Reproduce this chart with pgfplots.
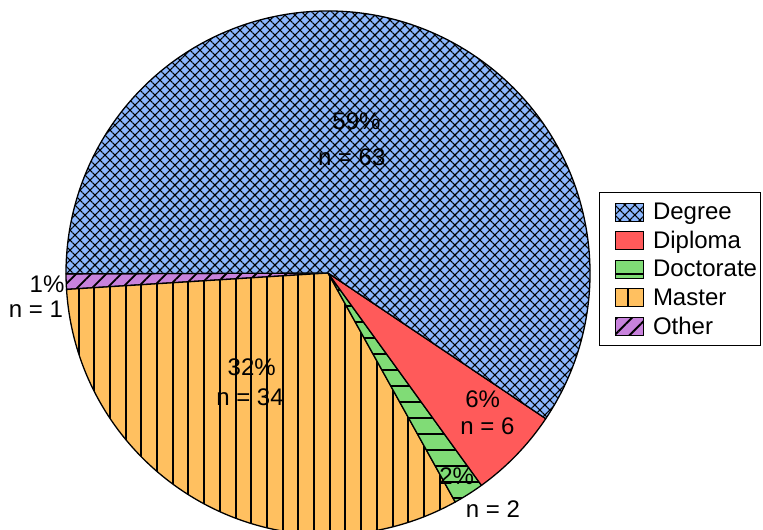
\documentclass[border=0pt]{standalone}
\usepackage{fontspec}
\setmainfont{Liberation Sans}
\usepackage{pgfplots}
\pgfplotsset{compat=1.18}
\usepackage{pgfplotstable}
\usetikzlibrary{patterns.meta}

\definecolor{cDegree}{RGB}{140,184,255}
\definecolor{cDiploma}{RGB}{255,90,90}
\definecolor{cDoctorate}{RGB}{128,220,118}
\definecolor{cMaster}{RGB}{255,192,96}
\definecolor{cOther}{RGB}{200,130,220}

\pgfplotstableread{
label n
Other 1
Master 34
Doctorate 2
Diploma 6
Degree 63
}\piedata

\pgfplotstablegetelem{0}{n}\of\piedata \edef\nOther{\pgfplotsretval}
\pgfplotstablegetelem{1}{n}\of\piedata \edef\nMaster{\pgfplotsretval}
\pgfplotstablegetelem{2}{n}\of\piedata \edef\nDoctorate{\pgfplotsretval}
\pgfplotstablegetelem{3}{n}\of\piedata \edef\nDiploma{\pgfplotsretval}
\pgfplotstablegetelem{4}{n}\of\piedata \edef\nDegree{\pgfplotsretval}
\pgfmathsetmacro\total{\nOther+\nMaster+\nDoctorate+\nDiploma+\nDegree}
\pgfmathsetmacro\aA{180.2}
\pgfmathsetmacro\aB{\aA+\nOther/\total*360}
\pgfmathsetmacro\aC{\aB+\nMaster/\total*360}
\pgfmathsetmacro\aD{\aC+\nDoctorate/\total*360}
\pgfmathsetmacro\aE{\aD+\nDiploma/\total*360}
\pgfmathsetmacro\aF{\aE+\nDegree/\total*360}

\tikzset{
  patDegree/.style={pattern={Hatch[angle=45,distance=7.07pt,line width=1.1pt]},pattern color=black,fill opacity=0.65},
  patDoctorate/.style={pattern={Lines[angle=0,distance=16pt,line width=1.8pt]},pattern color=black,fill opacity=0.72},
  patMaster/.style={pattern={Lines[angle=90,distance=15.7pt,line width=2pt]},pattern color=black,fill opacity=0.72},
  patOther/.style={pattern={Lines[angle=45,distance=10.6pt,line width=1.8pt]},pattern color=black,fill opacity=0.72},
  patNone/.style={fill=none},
  legtext/.style={inner sep=0pt, text height=18.6pt, text depth=3.4pt},
}

\newcommand\slice[4]{%
  \fill[#3] (axis cs:328,257) -- ([shift={(#1:262pt)}]axis cs:328,257) arc[start angle=#1,end angle=#2,radius=262pt] -- cycle;
  \fill[#4] (axis cs:328,257) -- ([shift={(#1:262pt)}]axis cs:328,257) arc[start angle=#1,end angle=#2,radius=262pt] -- cycle;
  \draw[line width=1.3pt,line join=round] (axis cs:328,257) -- ([shift={(#1:262pt)}]axis cs:328,257) arc[start angle=#1,end angle=#2,radius=262pt] -- cycle;
}
\newcommand\legimg[2]{%
  \addlegendimage{legend image code/.code={%
    \path (0pt,0pt);
    \fill[#1] (12pt,-9pt) rectangle (40pt,9pt);
    \fill[#2] (12pt,-9pt) rectangle (40pt,9pt);
    \draw[line width=1pt] (12pt,-9pt) rectangle (40pt,9pt);
  }}%
}

\begin{document}
\begin{tikzpicture}
\begin{axis}[
  name=ax,
  scale only axis, width=763pt, height=530pt,
  xmin=0, xmax=763, ymin=0, ymax=530,
  hide axis, clip=true,
  legend cell align=left,
  legend style={at={(599/763,338/530)}, anchor=north west,
    draw=black, line width=1pt, fill=white,
    font=\fontsize{24}{28}\selectfont,
    inner xsep=3pt, inner ysep=8.5pt, row sep=6.6pt,
    /tikz/column sep=9.5pt,
    nodes={legtext}},
]
\legimg{cDegree}{patDegree}
\addlegendentry[legtext]{Degree}
\legimg{cDiploma}{patNone}
\addlegendentry[legtext]{Diploma}
\legimg{cDoctorate}{patDoctorate}
\addlegendentry[legtext]{Doctorate}
\legimg{cMaster}{patMaster}
\addlegendentry[legtext]{Master}
\legimg{cOther}{patOther}
\addlegendentry[legtext]{Other}

\slice{\aA}{\aB}{cOther}{patOther}
\slice{\aB}{\aC}{cMaster}{patMaster}
\slice{\aC}{\aD}{cDoctorate}{patDoctorate}
\slice{\aD}{\aE}{cDiploma}{patNone}
\slice{\aE}{\aF}{cDegree}{patDegree}

\begin{scope}[every node/.style={font=\fontsize{24}{28}\selectfont, anchor=base, inner sep=0pt}]
\node at (axis cs:356.5,400) {59\%};
\node at (axis cs:351.7,364) {n = 63};
\node at (axis cs:482.7,122) {6\%};
\node at (axis cs:487.5,95) {n = 6};
\node at (axis cs:456.7,45) {2\%};
\node at (axis cs:493,12) {n = 2};
\node at (axis cs:251.7,154) {32\%};
\node at (axis cs:250,124.3) {n = 34};
\node at (axis cs:47,237) {1\%};
\node at (axis cs:36,212) {n = 1};
\end{scope}
\end{axis}
\pgfresetboundingbox
\path[use as bounding box] (ax.south west) rectangle (ax.north east);
\end{tikzpicture}
\end{document}
